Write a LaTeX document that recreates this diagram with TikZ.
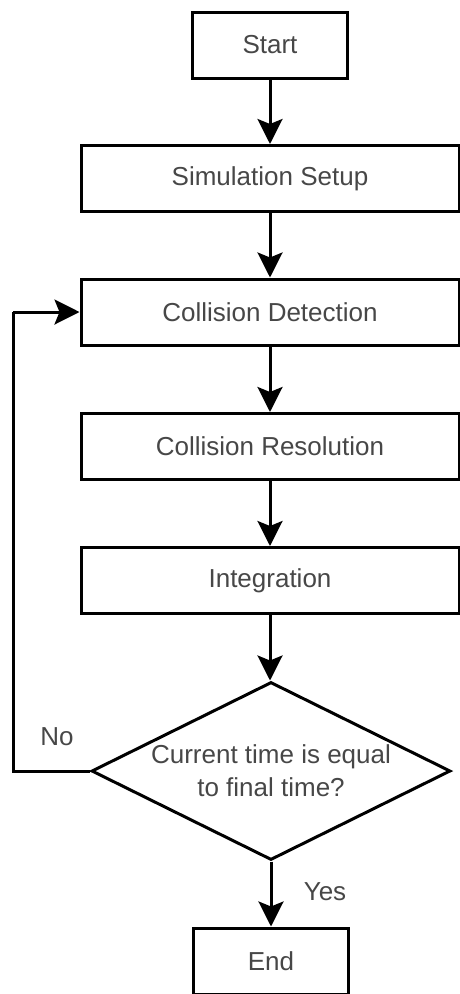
\documentclass[tikz,border=0pt]{standalone}
\usepackage{fontspec}
\setmainfont{Liberation Sans}
\usetikzlibrary{shapes.geometric,arrows.meta}
\begin{document}
\begin{tikzpicture}[x=1pt,y=-1pt,
  every node/.style={text=black!72, font=\fontsize{26}{33}\selectfont},
  box/.style={draw=black, line width=3pt, rectangle, inner sep=0pt, minimum height=66pt, fill=white},
  wide/.style={box, minimum width=378pt},
  narrow/.style={box, minimum width=155pt},
  flow/.style={draw=black, line width=3pt, -{Stealth[length=25pt,width=25pt,inset=5pt]}},
  plain/.style={draw=black, line width=3pt}]
\useasboundingbox (0,0) rectangle (459,994);
\node[narrow] (start) at (270,45) {Start};
\node[wide] (setup) at (270,178.5) {Simulation Setup};
\node[wide] (detect) at (270,312) {Collision Detection};
\node[wide] (resolve) at (270,446.5) {Collision Resolution};
\node[wide] (integ) at (270,580.5) {Integration};
\node[draw=black, line width=3pt, shape=diamond, inner sep=0pt, minimum width=359pt, minimum height=178pt] (dec) at (271,771) {};
\node[align=center] (dtext) at (271,771) {Current time is equal\\to final time?};
\node[narrow] (end) at (271,961) {End};
\node (no) at (57,737) {No};
\node (yes) at (325,892) {Yes};
\coordinate (c1) at (13,771);
\coordinate (c2) at (13,312);
\draw[flow] (start) -- (setup);
\draw[flow] (setup) -- (detect);
\draw[flow] (detect) -- (resolve);
\draw[flow] (resolve) -- (integ);
\draw[flow] (integ.south) -- (integ.south |- dec.north);
\draw[flow] (dec.south) -- (end.north);
\draw[plain] (dec.west) -- (c1) -- (c2);
\draw[flow] (c2) -- (detect.west);
\end{tikzpicture}
\end{document}
